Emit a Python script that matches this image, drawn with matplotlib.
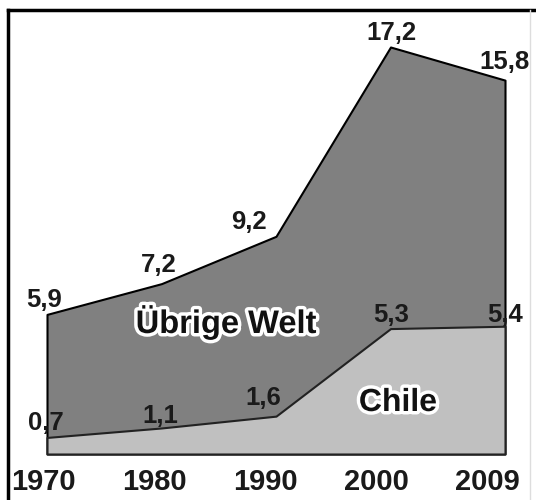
import matplotlib
matplotlib.use("Agg")
import matplotlib.pyplot as plt
import matplotlib.patheffects as pe
from matplotlib.lines import Line2D
from matplotlib import font_manager
import numpy as np

years = ["1970", "1980", "1990", "2000", "2009"]
chile = [0.7, 1.1, 1.6, 5.3, 5.4]
total = [5.9, 7.2, 9.2, 17.2, 15.8]
chile_labels = ["0,7", "1,1", "1,6", "5,3", "5,4"]
total_labels = ["5,9", "7,2", "9,2", "17,2", "15,8"]

names = {f.name for f in font_manager.fontManager.ttflist}
narrow = "Liberation Sans Narrow" if "Liberation Sans Narrow" in names else "Liberation Sans"

W, H = 536, 500
fig = plt.figure(figsize=(W / 100, H / 100), dpi=100)
fig.patch.set_facecolor("white")

ax = fig.add_axes([43 / W, 46 / H, 462 / W, 407 / H])
x = np.arange(len(years))
ax.fill_between(x, 0, total, facecolor="#808080", edgecolor="black", linewidth=1.5, clip_on=False, zorder=1)
ax.fill_between(x, 0, chile, facecolor="#c0c0c0", edgecolor="#222222", linewidth=1.5, clip_on=False, zorder=2)
ax.set_xlim(0, 4)
ax.set_ylim(0, 17.2)
for s in ax.spines.values():
    s.set_visible(False)
ax.set_yticks([])
ax.set_facecolor("none")

# year labels (slightly left of the data columns, as in reference)
tick_pos = x * 0.97 - 0.035
ax.set_xticks(tick_pos)
ax.set_xticklabels(years, fontfamily=narrow, fontweight="bold", fontsize=21, color="#1a1a1a")
ax.tick_params(axis="x", length=0, pad=10)

lab_font = dict(fontfamily="Liberation Sans", fontweight="bold", fontsize=18.5, color="#1a1a1a",
                ha="center", va="center")
tot_off = [(-3, 14), (-3, 19), (-27, 14), (1, 14), (0, 18)]
chi_off = [(-1, 14), (-1, 12), (-13, 18), (1, 14), (0, 11)]
for i in range(len(years)):
    ax.annotate(total_labels[i], (x[i], total[i]), xytext=tot_off[i], textcoords="offset pixels",
                annotation_clip=False, zorder=5, **lab_font)
    ax.annotate(chile_labels[i], (x[i], chile[i]), xytext=chi_off[i], textcoords="offset pixels",
                annotation_clip=False, zorder=5, **lab_font)

outline = [pe.withStroke(linewidth=5, foreground="white")]
fig.text(226 / W, 1 - 322 / H, "Übrige Welt", fontfamily="Liberation Sans", fontweight="bold",
         fontsize=23.5, color="#111111", ha="center", va="center", path_effects=outline)
fig.text(398 / W, 1 - 403 / H, "Chile", fontfamily="Liberation Sans", fontweight="bold",
         fontsize=23, color="#111111", ha="center", va="center", path_effects=outline)

# outer frame
fig.add_artist(Line2D([8 / W, 8 / W], [0, 1 - 10 / H], transform=fig.transFigure, color="black", linewidth=2.5))
fig.add_artist(Line2D([8 / W, 1], [1 - 10 / H, 1 - 10 / H], transform=fig.transFigure, color="black", linewidth=2.5))
fig.add_artist(Line2D([530 / W, 530 / W], [0, 1 - 10 / H], transform=fig.transFigure, color="#dddddd", linewidth=1))

fig.savefig("out.png", dpi=100, facecolor="white")
